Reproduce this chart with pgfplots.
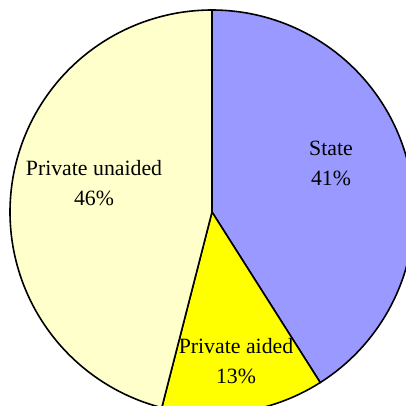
\documentclass[border=0pt]{standalone}
\usepackage{pgfplots}
\pgfplotsset{compat=1.18}
\usepackage{fontspec}
\setmainfont{Liberation Serif}
\definecolor{statecol}{HTML}{9999FF}
\definecolor{aidedcol}{HTML}{FFFF00}
\definecolor{unaidedcol}{HTML}{FFFFCC}
\tikzset{lbl/.style={font=\fontsize{21.8}{30}\selectfont, align=center, text=black, inner sep=0pt}}
\begin{document}
\begin{tikzpicture}
\begin{axis}[
  scale only axis, width=406pt, height=405pt,
  xmin=0, xmax=406, ymin=0, ymax=405,
  hide axis, clip=true,
]
% shares: State 41, Private aided 13, Private unaided 46 (percent)
\addplot[fill=statecol, draw=black, line width=1.6pt, line join=round, domain={90-3.6*41}:{90}, samples=120, variable=\t]
  ({212+202*cos(\t)},{193+202*sin(\t)}) -- (axis cs:212,193) -- cycle;
\addplot[fill=aidedcol, draw=black, line width=1.6pt, line join=round, domain={90-3.6*(41+13)}:{90-3.6*41}, samples=60, variable=\t]
  ({212+202*cos(\t)},{193+202*sin(\t)}) -- (axis cs:212,193) -- cycle;
\addplot[fill=unaidedcol, draw=black, line width=1.6pt, line join=round, domain={90-3.6*(41+13+46)}:{90-3.6*(41+13)}, samples=150, variable=\t]
  ({212+202*cos(\t)},{193+202*sin(\t)}) -- (axis cs:212,193) -- cycle;
\node[lbl] at (axis cs:331,242) {State\\41\%};
\node[lbl] at (axis cs:94,222) {Private unaided\\46\%};
\node[lbl] at (axis cs:236,44) {Private aided\\13\%};
\end{axis}
\pgfresetboundingbox
\path (current axis.south west) rectangle (current axis.north east);
\end{tikzpicture}
\end{document}
